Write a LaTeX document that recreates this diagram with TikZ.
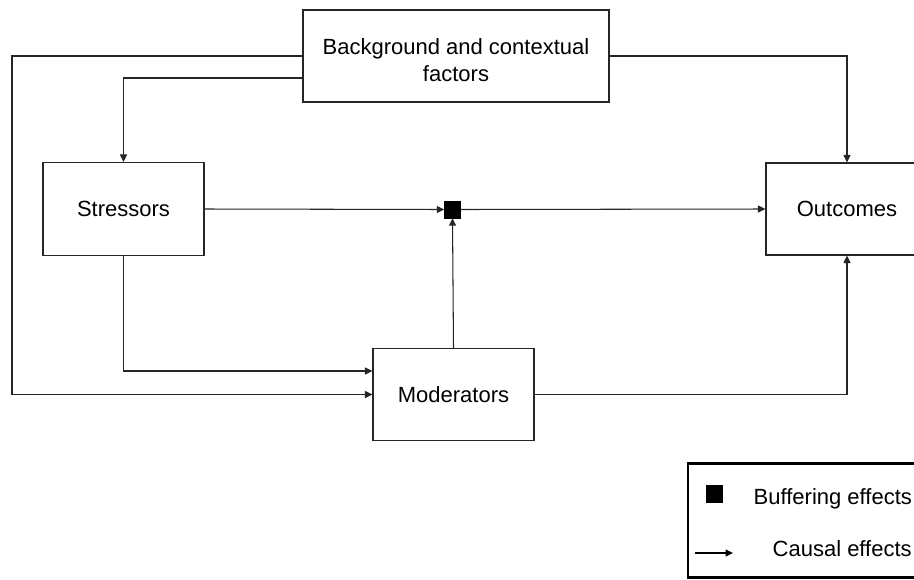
\documentclass[tikz,border=0pt]{standalone}
\usepackage{fontspec}
\setmainfont{Liberation Sans}
\usetikzlibrary{arrows.meta}
\begin{document}
\begin{tikzpicture}[x=1pt,y=-1pt,
  box/.style={draw=black!85,line width=1.1pt,fill=white,align=center,inner sep=0pt,
    font=\fontsize{22}{27}\selectfont},
  txt/.style={align=center,inner sep=0pt,font=\fontsize{22}{26.5}\selectfont},
  arr/.style={draw=black!85,line width=1.05pt,-{Triangle[length=7.5pt,width=7pt]}},
  buf/.style={fill=black,draw=black,inner sep=0pt,minimum width=16pt,minimum height=17pt},
  lab/.style={inner sep=0pt,font=\fontsize{22}{26}\selectfont,anchor=base west}]
\clip (0,0) rectangle (914,579);
\fill[white] (0,0) rectangle (914,579);
\node[box,minimum width=306pt,minimum height=92pt] (bg) at (456,56) {};
\node[txt] (bgt) at (456,60) {Background and contextual\\factors};
\node[box,minimum width=161pt,minimum height=93pt] (st) at (123.5,209) {Stressors};
\node[box,minimum width=162pt,minimum height=92pt] (out) at (847,209) {Outcomes};
\node[box,minimum width=161pt,minimum height=92pt] (mod) at (453.5,394.5) {Moderators};
\node[buf] (sq) at (452.5,209.5) {};
\coordinate (lft) at (12,394.5);
\draw[arr] (bg.west) -| (lft) -- (mod.west);
\draw[arr] ([yshift=-22pt]bg.west) -| (st.north);
\draw[arr] (bg.east) -| (out.north);
\draw[arr] (st.east) -- (sq.west);
\draw[arr] (sq.east) -- (out.west);
\draw[arr] (mod.north) -- (sq.south);
\draw[arr] (st.south) |- ([yshift=23.5pt]mod.west);
\draw[arr] (mod.east) -| (out.south);
% legend
\node[draw=black,line width=2.6pt,minimum width=260pt,minimum height=114pt,inner sep=0pt] (leg) at (818,520.5) {};
\node[buf] (lsq) at (714,493.5) {};
\node[lab] (lbuf) at (753.5,504) {Buffering effects};
\node[lab] (lcau) at (772.5,556) {Causal effects};
\coordinate (la) at (695,553);
\coordinate (lb) at (733,553);
\draw[arr,draw=black] (la) -- (lb);
\end{tikzpicture}
\end{document}
